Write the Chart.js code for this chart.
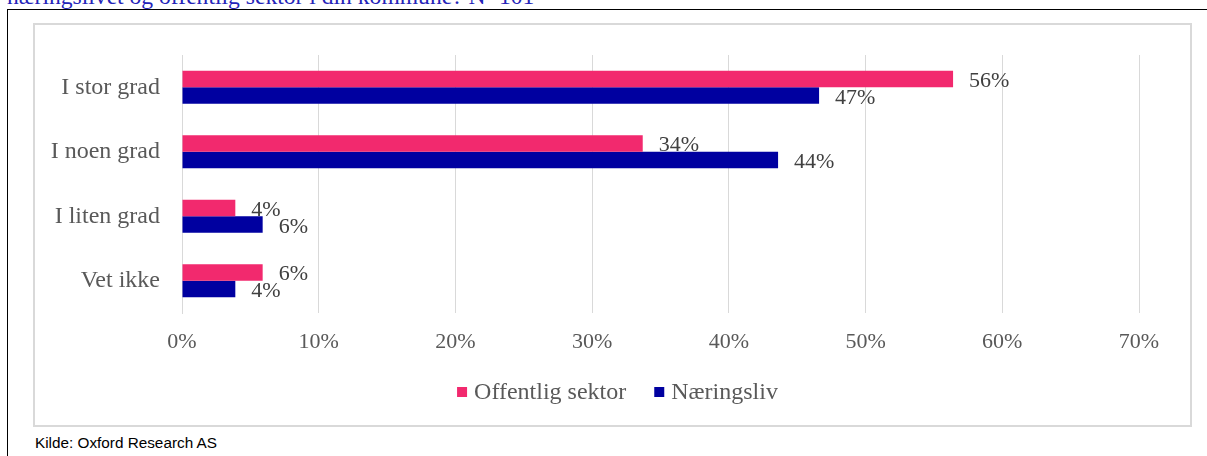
<!DOCTYPE html>
<html>
<head>
<meta charset="utf-8">
<script src="https://cdn.jsdelivr.net/npm/chart.js@4/dist/chart.umd.min.js"></script>
<style>
  html, body { margin: 0; padding: 0; background: #fff; }
  body { width: 1207px; height: 456px; position: relative; overflow: hidden; }
  #title { position: absolute; left: 7px; top: -17px; font: 23.6px "Liberation Serif", "Times New Roman", serif; color: #2424b8; white-space: nowrap; line-height: 26px; }
  #frameTop { position: absolute; left: 7px; top: 9px; width: 1200px; height: 1px; background: #000; }
  #frameLeft { position: absolute; left: 7px; top: 9px; width: 1px; height: 447px; background: #000; }
  #box { position: absolute; left: 33px; top: 23px; width: 1159px; height: 404px; border: 2px solid #d9d9d9; box-sizing: border-box; }
  #wrap { position: absolute; left: 34px; top: 24px; width: 1157px; height: 402px; }
  #source { position: absolute; left: 35px; top: 434px; font: 15.3px "Liberation Sans", Arial, sans-serif; color: #000; white-space: nowrap; }
</style>
</head>
<body>
<div id="title">næringslivet og offentlig sektor i din kommune? N=101</div>
<div id="frameTop"></div>
<div id="frameLeft"></div>
<div id="box"></div>
<div id="wrap"><canvas id="c" width="1157" height="402"></canvas></div>
<div id="source">Kilde: Oxford Research AS</div>
<script>
const categories = ["I stor grad", "I noen grad", "I liten grad", "Vet ikke"];
const seriesNames = ["Offentlig sektor", "Næringsliv"];
const offentligSektor = [56.4, 33.7, 3.9, 5.9];
const naeringsliv = [46.6, 43.6, 5.9, 3.9];
const xTicks = [0, 10, 20, 30, 40, 50, 60, 70];
const colors = ["#f2296e", "#0000a0"];

const serif = '"Liberation Serif", "Times New Roman", serif';
const textColor = "#595959";

const labelPlugin = {
  id: "barLabels",
  afterDatasetsDraw(chart) {
    const ctx = chart.ctx;
    ctx.save();
    ctx.font = "22px " + serif;
    ctx.fillStyle = "#404040";
    ctx.textAlign = "left";
    ctx.textBaseline = "alphabetic";
    chart.data.datasets.forEach((ds, i) => {
      const meta = chart.getDatasetMeta(i);
      meta.data.forEach((el, j) => {
        ctx.fillText(Math.round(ds.data[j]) + "%", el.x + 16, el.y + 8);
      });
    });
    ctx.restore();
  }
};

const legendPlugin = {
  id: "customLegend",
  afterDraw(chart) {
    const ctx = chart.ctx;
    ctx.save();
    ctx.font = "24px " + serif;
    ctx.textBaseline = "middle";
    ctx.textAlign = "left";
    const box = 10, gap = 7, sep = 28;
    const items = chart.data.datasets.map(d => ({ label: d.label, color: d.backgroundColor, w: ctx.measureText(d.label).width }));
    let total = 0;
    items.forEach((it, k) => { total += box + gap + it.w + (k < items.length - 1 ? sep : 0); });
    let x = 583.5 - total / 2;
    const y = 368;
    items.forEach(it => {
      ctx.fillStyle = it.color;
      ctx.fillRect(x, y - 5, box, box);
      x += box + gap;
      ctx.fillStyle = textColor;
      ctx.fillText(it.label, x, y + 1);
      x += it.w + sep;
    });
    ctx.restore();
  }
};

new Chart(document.getElementById("c"), {
  type: "bar",
  data: {
    labels: categories,
    datasets: [
      { label: seriesNames[0], data: offentligSektor, backgroundColor: colors[0], categoryPercentage: 0.512, barPercentage: 1.0 },
      { label: seriesNames[1], data: naeringsliv, backgroundColor: colors[1], categoryPercentage: 0.512, barPercentage: 1.0 }
    ]
  },
  options: {
    indexAxis: "y",
    responsive: false,
    animation: false,
    events: [],
    layout: { padding: { top: 31, right: 52, left: 0, bottom: 0 } },
    plugins: { legend: { display: false }, tooltip: { enabled: false } },
    scales: {
      x: {
        min: 0, max: 70,
        afterBuildTicks(scale) { scale.ticks = xTicks.map(v => ({ value: v })); },
        afterFit(scale) { scale.height = 113; },
        grid: { color: "#d9d9d9", lineWidth: 1, drawTicks: false },
        border: { display: false },
        ticks: { padding: 16, color: textColor, font: { family: serif, size: 22 }, callback: v => v + "%" }
      },
      y: {
        afterFit(scale) { scale.width = 148; scale.paddingTop = 0; scale.paddingBottom = 0; },
        grid: { display: false, drawTicks: false },
        border: { display: true, color: "#d9d9d9", width: 1 },
        ticks: { padding: 22, color: textColor, font: { family: serif, size: 24 } }
      }
    }
  },
  plugins: [labelPlugin, legendPlugin]
});
</script>
</body>
</html>
